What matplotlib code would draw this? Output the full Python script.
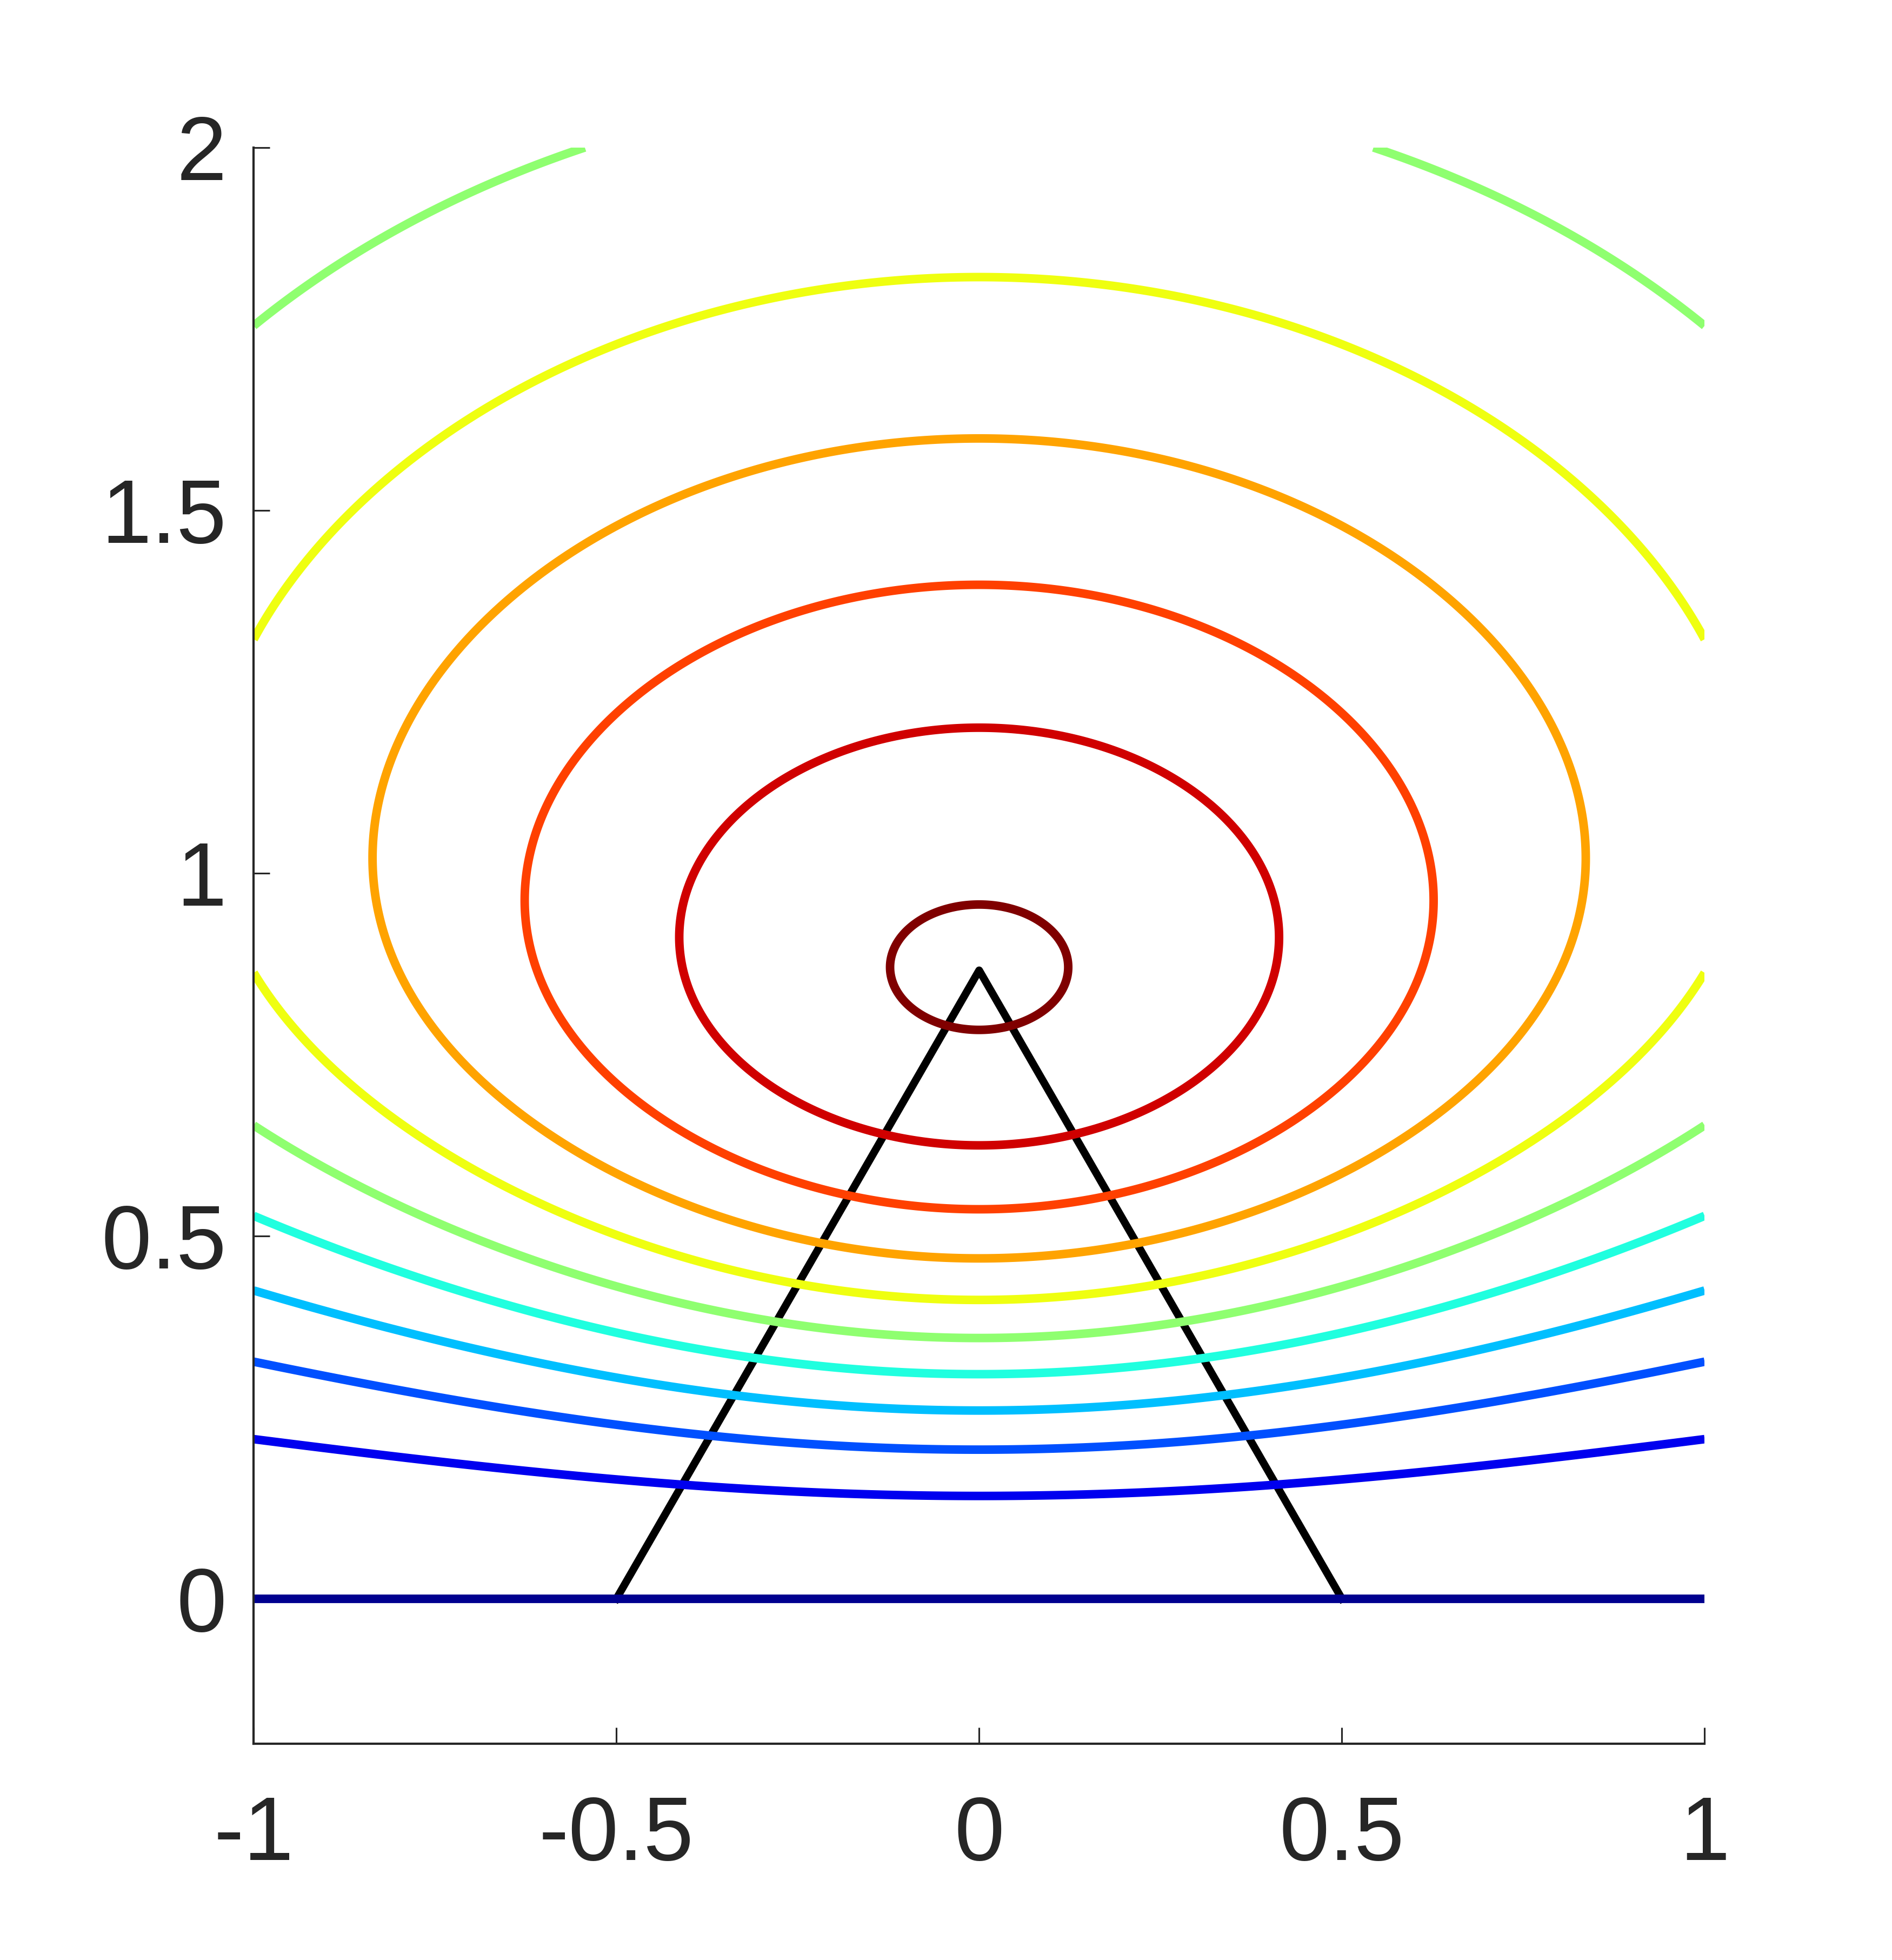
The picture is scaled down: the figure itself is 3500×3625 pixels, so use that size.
import numpy as np
import matplotlib
matplotlib.use("Agg")
import matplotlib.pyplot as plt

plt.rcParams['font.family'] = ['Liberation Sans', 'DejaVu Sans']

# apex of the triangle = line source, ground plane at y = 0
h = np.sqrt(3) / 2
tri_x = [-0.5, 0.0, 0.5]
tri_y = [0.0, h, 0.0]

# distance ratio r_image / r_source of each contour (read on the x = 0 axis)
ratio_levels = [1.0, 1.391, 1.622, 1.855, 2.112, 2.418, 2.813, 3.363, 4.26, 6.18, 20.1]
level_colors = ['#00008f', '#0000ef', '#0050ff', '#00bfff', '#20ffdf', '#8fff70',
                '#efff10', '#ffa300', '#ff4000', '#d00000', '#800000']

# horizontal stretch of the field
stretch_base = 1.42
stretch_y = [0.0, 0.3, 0.55, 0.65, 0.8, 0.95, 1.35, 1.8, 2.2]
stretch_gain = [0.18, 0.17, 0.145, 0.12, 0.09, 0.09, 0.062, 0.055, 0.055]

xticks = [-1, -0.5, 0, 0.5, 1]
xlabels = ['-1', '-0.5', '0', '0.5', '1']
yticks = [0, 0.5, 1, 1.5, 2]
ylabels = ['0', '0.5', '1', '1.5', '2']

# smooth stretch profile through the read values
gain_fit = np.polyfit(stretch_y, stretch_gain, 3)

# field on a grid
x = np.linspace(-1, 1, 1000)
y = np.linspace(-0.2, 2.0, 1100)
X, Y = np.meshgrid(x, y)
S = stretch_base + X**2 * np.polyval(gain_fit, Y)
U = X / S
F = 0.5 * np.log((U**2 + (Y + h)**2) / (U**2 + (Y - h)**2))

fig = plt.figure(figsize=(3500 / 300, 3625 / 300), dpi=300)
ax = fig.add_axes([0.13409, 0.11029, 0.76686, 0.81446])

ax.plot(tri_x, tri_y, color='k', lw=3.4, solid_joinstyle='round', zorder=1)
ax.contour(X, Y, F, levels=np.log(ratio_levels), colors=level_colors,
           linewidths=3.8, zorder=2)

ax.set_xlim(-1, 1)
ax.set_ylim(-0.2, 2)
ax.set_aspect('equal')
for side in ['top', 'right']:
    ax.spines[side].set_visible(False)
for side in ['left', 'bottom']:
    ax.spines[side].set_color('#262626')
    ax.spines[side].set_linewidth(1.0)

ax.set_xticks(xticks)
ax.set_xticklabels(xlabels)
ax.set_yticks(yticks)
ax.set_yticklabels(ylabels)
ax.tick_params(direction='in', length=7.2, width=0.75, colors='#262626',
               labelsize=40)
ax.tick_params(axis='x', pad=22.5)
ax.tick_params(axis='y', pad=12)

fig.savefig('out.png', dpi=300)
